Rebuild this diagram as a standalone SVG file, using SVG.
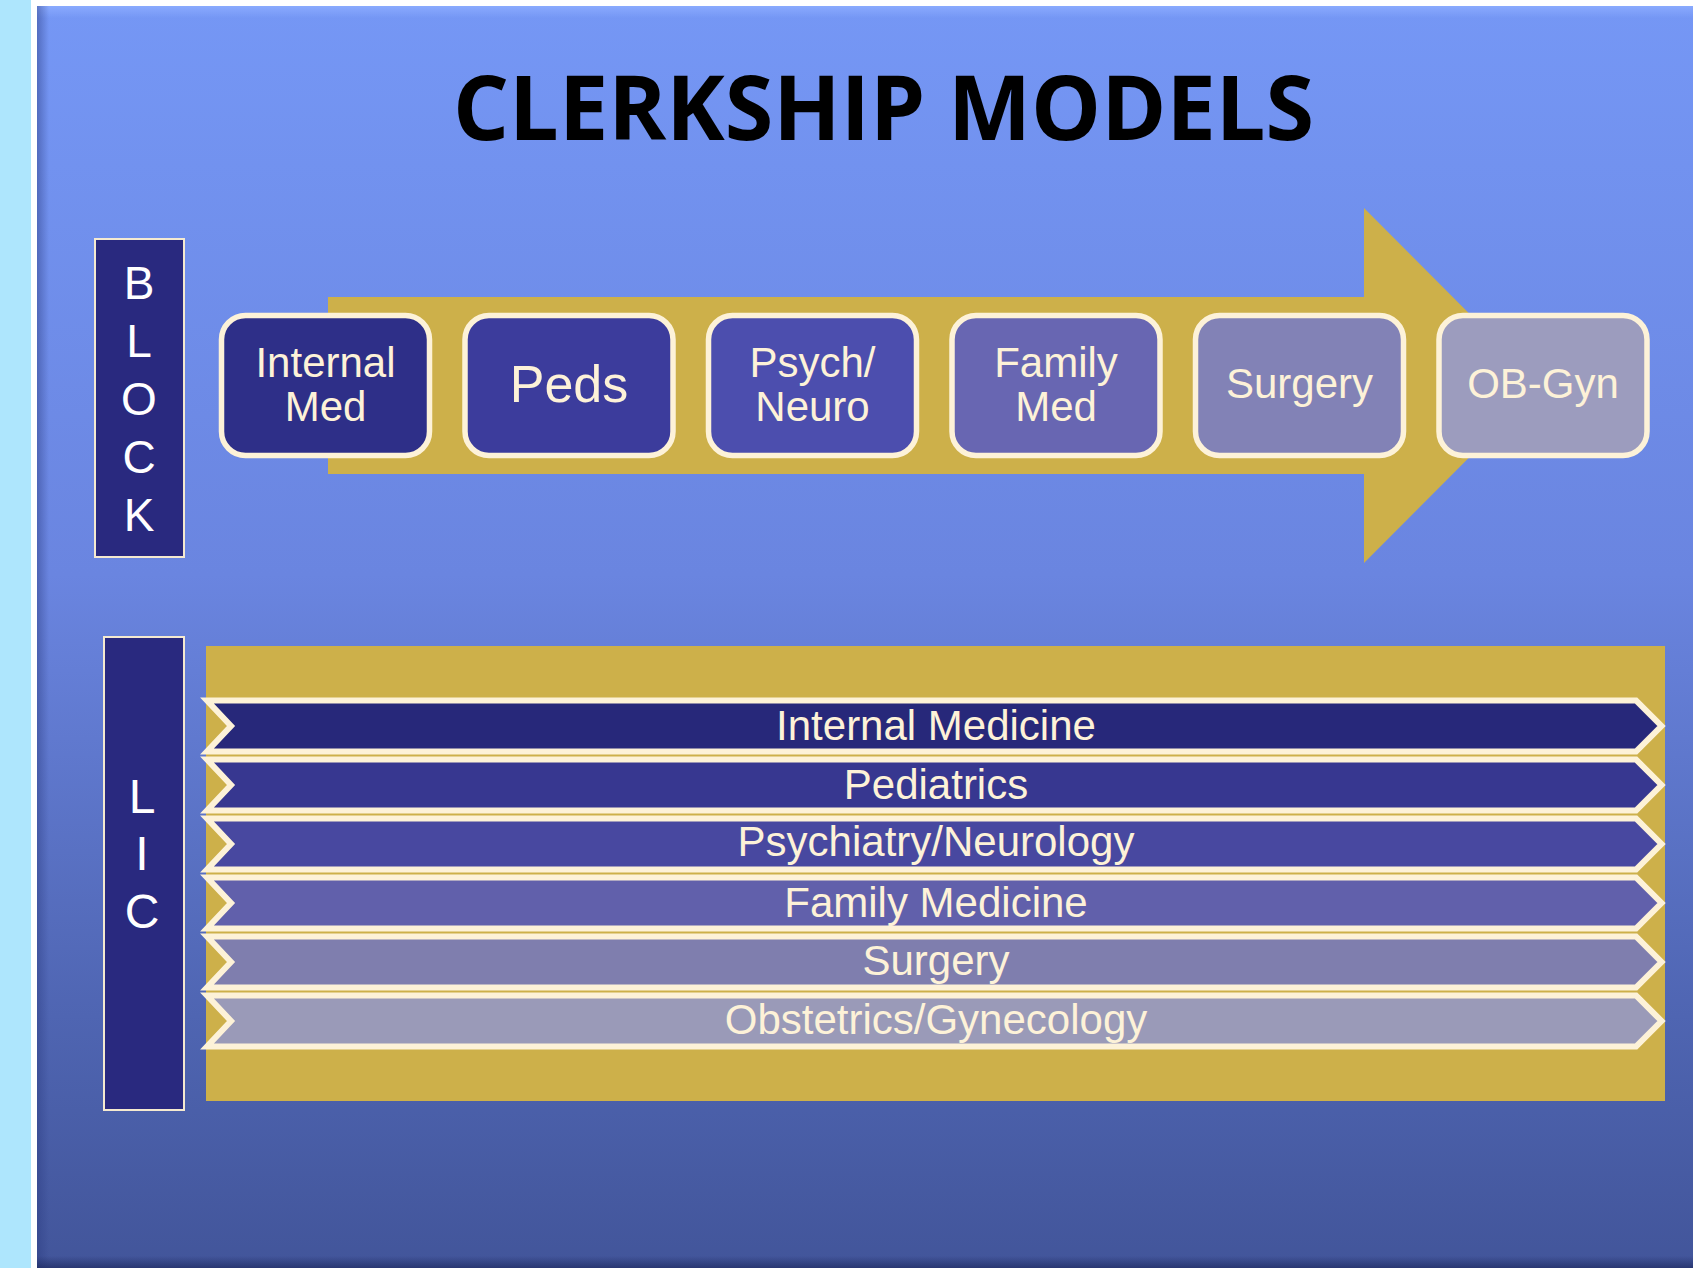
<svg xmlns="http://www.w3.org/2000/svg" width="1693" height="1268" viewBox="0 0 1693 1268">
  <defs>
    <linearGradient id="slideFill" x1="0" y1="0" x2="0" y2="1">
      <stop offset="0" stop-color="#7597f5"/>
      <stop offset="0.45" stop-color="#6a85e0"/>
      <stop offset="0.8" stop-color="#4f65b2"/>
      <stop offset="1" stop-color="#42559a"/>
    </linearGradient>
    <linearGradient id="leftShade" x1="0" y1="0" x2="1" y2="0">
      <stop offset="0" stop-color="#2a3a80" stop-opacity="0.45"/>
      <stop offset="1" stop-color="#2a3a80" stop-opacity="0"/>
    </linearGradient>
    <linearGradient id="bottomShade" x1="0" y1="0" x2="0" y2="1">
      <stop offset="0" stop-color="#1e2a60" stop-opacity="0"/>
      <stop offset="1" stop-color="#1e2a60" stop-opacity="0.7"/>
    </linearGradient>
    <linearGradient id="topLight" x1="0" y1="0" x2="0" y2="1">
      <stop offset="0" stop-color="#8cacff" stop-opacity="0.9"/>
      <stop offset="1" stop-color="#8cacff" stop-opacity="0"/>
    </linearGradient>
  </defs>
  <style>
    .gold { fill: #cdb04a; }
    .side { stroke: #f5ead0; stroke-width: 2; fill: #29297f; }
    .side-letter { font-family: "Liberation Sans", Arial, sans-serif; fill: #ffffff; text-anchor: middle; }
    .stage { stroke: #fdf2d8; stroke-width: 5.5; }
    .stage-text { font-family: "Liberation Sans", Arial, sans-serif; font-size: 42px; fill: #fdf2d8; text-anchor: middle; }
    .stage-text.big { font-size: 52px; }
    .bar { stroke: #fdf2d8; stroke-width: 6; stroke-linejoin: miter; stroke-miterlimit: 10; }
    .bar-text { font-family: "Liberation Sans", Arial, sans-serif; font-size: 42px; fill: #fdf2d8; text-anchor: middle; }
  </style>

  <!-- page backdrop and slide panel -->
  <rect x="0" y="0" width="1693" height="1268" fill="#aee6fd"/>
  <rect x="31" y="0" width="1662" height="1268" fill="#ffffff"/>
  <rect x="37" y="6" width="1656" height="1262" fill="url(#slideFill)"/>
  <rect x="37" y="6" width="1656" height="12" fill="url(#topLight)"/>
  <rect x="37" y="6" width="12" height="1262" fill="url(#leftShade)"/>
  <rect x="37" y="1256" width="1656" height="12" fill="url(#bottomShade)"/>

  <!-- title -->
  <text id="title" x="883.5" y="140" font-family="'Open Sans', 'Noto Sans', sans-serif" font-weight="bold" font-size="90" textLength="861" lengthAdjust="spacingAndGlyphs" text-anchor="middle" fill="#000000">CLERKSHIP MODELS</text>

  <!-- block model: progression arrow -->
  <g id="connectors">
    <path id="block-arrow" class="gold" d="M328 297 H1364 V208 L1541 385.5 L1364 563 V474 H328 Z"/>
  </g>

  <!-- BLOCK label -->
  <g id="block-label">
    <rect class="side" x="95" y="239" width="89" height="318"/>
    <text class="side-letter" font-size="46" x="139" y="299">B</text>
    <text class="side-letter" font-size="46" x="139" y="357">L</text>
    <text class="side-letter" font-size="46" x="139" y="415">O</text>
    <text class="side-letter" font-size="46" x="139" y="473">C</text>
    <text class="side-letter" font-size="46" x="139" y="531">K</text>
  </g>

  <!-- block rotations -->
  <g id="block-internal-med">
    <rect class="stage" x="221.5" y="315.5" width="208" height="140" rx="24" fill="#2e2f88"/>
    <text class="stage-text" x="325.5" y="377">Internal</text>
    <text class="stage-text" x="325.5" y="421">Med</text>
  </g>
  <g id="block-peds">
    <rect class="stage" x="465" y="315.5" width="208" height="140" rx="24" fill="#3c3c9c"/>
    <text class="stage-text big" x="569" y="402">Peds</text>
  </g>
  <g id="block-psych-neuro">
    <rect class="stage" x="708.5" y="315.5" width="208" height="140" rx="24" fill="#4c4eae"/>
    <text class="stage-text" x="812.5" y="377">Psych/</text>
    <text class="stage-text" x="812.5" y="421">Neuro</text>
  </g>
  <g id="block-family-med">
    <rect class="stage" x="952" y="315.5" width="208" height="140" rx="24" fill="#6866b2"/>
    <text class="stage-text" x="1056" y="377">Family</text>
    <text class="stage-text" x="1056" y="421">Med</text>
  </g>
  <g id="block-surgery">
    <rect class="stage" x="1195.5" y="315.5" width="208" height="140" rx="24" fill="#8282b6"/>
    <text class="stage-text" x="1299.5" y="398">Surgery</text>
  </g>
  <g id="block-ob-gyn">
    <rect class="stage" x="1439" y="315.5" width="208" height="140" rx="24" fill="#9c9cbe"/>
    <text class="stage-text" x="1543" y="398">OB-Gyn</text>
  </g>

  <!-- LIC label -->
  <g id="lic-label">
    <rect class="side" x="104" y="637" width="80" height="473"/>
    <text class="side-letter" font-size="48" x="142" y="813">L</text>
    <text class="side-letter" font-size="48" x="142" y="870">I</text>
    <text class="side-letter" font-size="48" x="142" y="928">C</text>
  </g>

  <!-- longitudinal integrated clerkship: concurrent tracks -->
  <rect id="lic-field" class="gold" x="206" y="646" width="1459" height="455"/>

  <g id="lic-internal-medicine">
    <path class="bar" fill="#27287a" d="M207 700.5 H1636 L1661.5 726 L1636 751.5 H207 L231 726 Z"/>
    <text class="bar-text" x="936" y="740">Internal Medicine</text>
  </g>
  <g id="lic-pediatrics">
    <path class="bar" fill="#373790" d="M207 759.5 H1636 L1661.5 785 L1636 810.5 H207 L231 785 Z"/>
    <text class="bar-text" x="936" y="799">Pediatrics</text>
  </g>
  <g id="lic-psychiatry-neurology">
    <path class="bar" fill="#4848a0" d="M207 818.5 H1636 L1661.5 844 L1636 869.5 H207 L231 844 Z"/>
    <text class="bar-text" x="936" y="856">Psychiatry/Neurology</text>
  </g>
  <g id="lic-family-medicine">
    <path class="bar" fill="#6160ab" d="M207 877.5 H1636 L1661.5 903 L1636 928.5 H207 L231 903 Z"/>
    <text class="bar-text" x="936" y="917">Family Medicine</text>
  </g>
  <g id="lic-surgery">
    <path class="bar" fill="#7f7eae" d="M207 936.5 H1636 L1661.5 962 L1636 987.5 H207 L231 962 Z"/>
    <text class="bar-text" x="936" y="975">Surgery</text>
  </g>
  <g id="lic-obstetrics-gynecology">
    <path class="bar" fill="#9a9ab8" d="M207 995.5 H1636 L1661.5 1021 L1636 1046.5 H207 L231 1021 Z"/>
    <text class="bar-text" x="936" y="1034">Obstetrics/Gynecology</text>
  </g>
</svg>
